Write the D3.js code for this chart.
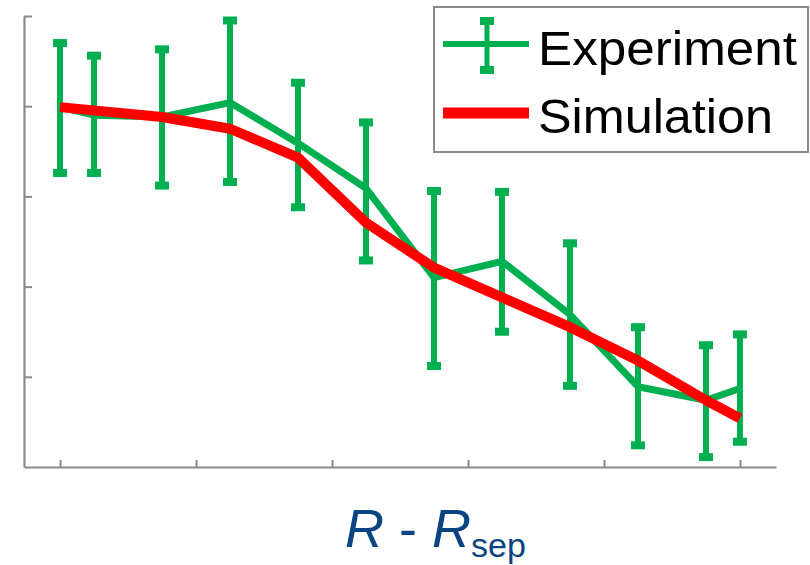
<!DOCTYPE html>
<html>
<head>
<meta charset="utf-8">
<script src="https://cdn.jsdelivr.net/npm/d3@7"></script>
<style>
  html, body { margin: 0; padding: 0; background: #fff; }
  svg { display: block; }
</style>
</head>
<body>
<svg id="chart" width="810" height="565"></svg>
<script>
// ---- data ----
const expX     = [0, 0.25, 0.75, 1.25, 1.75, 2.25, 2.75, 3.25, 3.75, 4.25, 4.75, 5.0];
const expY     = [3.99, 3.90, 3.88, 4.04, 3.59, 3.09, 2.10, 2.28, 1.69, 0.89, 0.74, 0.87];
const expUpper = [4.70, 4.56, 4.63, 4.95, 4.26, 3.82, 3.06, 3.05, 2.48, 1.55, 1.35, 1.47];
const expLower = [3.26, 3.26, 3.12, 3.16, 2.88, 2.29, 1.12, 1.50, 0.90, 0.24, 0.11, 0.28];
const simX     = [0, 0.75, 1.25, 1.75, 2.25, 2.75, 3.25, 3.75, 4.25, 4.75, 5.0];
const simY     = [3.99, 3.88, 3.75, 3.43, 2.71, 2.21, 1.88, 1.55, 1.18, 0.74, 0.54];
const xTicks   = [0, 1, 2, 3, 4, 5];
const yTicks   = [1, 2, 3, 4, 5];
const seriesNames = ["Experiment", "Simulation"];

const GREEN = "#00b050", RED = "#ff0000", AXIS = "#8a8a8a";

const svg = d3.select("#chart");
const x = d3.scaleLinear().domain([-0.265, 5.265]).range([24, 776]);
const y = d3.scaleLinear().domain([0, 5]).range([467, 16]);

// axes
const gx = svg.append("g").attr("transform", "translate(0,467)")
  .call(d3.axisBottom(x).tickValues(xTicks).tickSizeInner(-7).tickSizeOuter(0).tickFormat(""));
const gy = svg.append("g").attr("transform", "translate(24,0)")
  .call(d3.axisLeft(y).tickValues(yTicks).tickSizeInner(-8).tickSizeOuter(0).tickFormat(""));
[gx, gy].forEach(g => {
  g.select(".domain").attr("stroke", AXIS).attr("stroke-width", 2.2);
  g.selectAll(".tick line").attr("stroke", AXIS).attr("stroke-width", 2);
});

const exp = expX.map((v, i) => ({x: v, y: expY[i], lo: expLower[i], hi: expUpper[i]}));
const sim = simX.map((v, i) => ({x: v, y: simY[i]}));

// error bars
const eb = svg.append("g");
eb.selectAll("line.bar").data(exp).join("line")
  .attr("x1", d => x(d.x)).attr("x2", d => x(d.x))
  .attr("y1", d => y(d.hi)).attr("y2", d => y(d.lo))
  .attr("stroke", GREEN).attr("stroke-width", 6);
const caps = exp.flatMap(d => [{x: d.x, v: d.hi}, {x: d.x, v: d.lo}]);
eb.selectAll("rect.cap").data(caps).join("rect")
  .attr("x", d => x(d.x) - 7).attr("y", d => y(d.v) - 4)
  .attr("width", 14).attr("height", 8).attr("fill", GREEN);

// experiment line
const line = d3.line().x(d => x(d.x)).y(d => y(d.y));
svg.append("path").datum(exp).attr("d", line)
  .attr("fill", "none").attr("stroke", GREEN).attr("stroke-width", 7)
  .attr("stroke-linejoin", "round");

// simulation line
svg.append("path").datum(sim).attr("d", line)
  .attr("fill", "none").attr("stroke", RED).attr("stroke-width", 10)
  .attr("stroke-linejoin", "round");

// legend
const lg = svg.append("g");
lg.append("rect").attr("x", 434).attr("y", 7).attr("width", 374).attr("height", 145)
  .attr("fill", "#fff").attr("stroke", AXIS).attr("stroke-width", 2);
lg.append("line").attr("x1", 443).attr("x2", 529).attr("y1", 44).attr("y2", 44)
  .attr("stroke", GREEN).attr("stroke-width", 6);
lg.append("line").attr("x1", 487).attr("x2", 487).attr("y1", 21).attr("y2", 70)
  .attr("stroke", GREEN).attr("stroke-width", 5);
[21, 70].forEach(cy => lg.append("rect").attr("x", 480).attr("y", cy - 4)
  .attr("width", 14).attr("height", 8).attr("fill", GREEN));
lg.append("line").attr("x1", 443).attr("x2", 529).attr("y1", 113).attr("y2", 113)
  .attr("stroke", RED).attr("stroke-width", 11);
lg.append("text").attr("x", 538).attr("y", 65).text(seriesNames[0])
  .attr("font-family", "Liberation Sans, Arial, sans-serif").attr("font-size", 48)
  .attr("textLength", 259).attr("lengthAdjust", "spacingAndGlyphs").attr("fill", "#000");
lg.append("text").attr("x", 538).attr("y", 133).text(seriesNames[1])
  .attr("font-family", "Liberation Sans, Arial, sans-serif").attr("font-size", 48)
  .attr("textLength", 235).attr("lengthAdjust", "spacingAndGlyphs").attr("fill", "#000");

// x-axis label
const xl = svg.append("text").attr("x", 345).attr("y", 547)
  .attr("font-family", "Liberation Sans, Arial, sans-serif").attr("font-size", 54)
  .attr("fill", "#0b4483");
xl.append("tspan").attr("font-style", "italic").text("R");
xl.append("tspan").text(" - ");
xl.append("tspan").attr("font-style", "italic").text("R");
xl.append("tspan").attr("font-size", 34).attr("dy", 10).text("sep");
</script>
</body>
</html>
